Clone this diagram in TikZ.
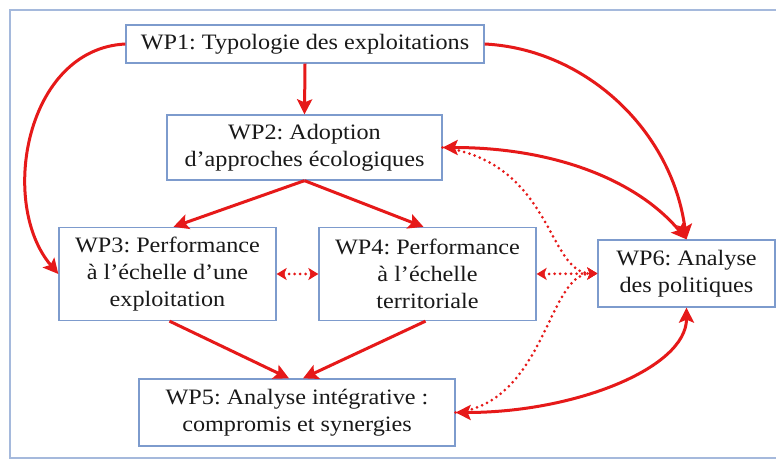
\documentclass[tikz,border=0pt]{standalone}
\usepackage{fontspec}
\setmainfont{Liberation Serif}[FakeStretch=1.1]
\usetikzlibrary{arrows.meta}
\frenchspacing
\definecolor{arrred}{RGB}{230,25,25}
\definecolor{boxblue}{RGB}{125,155,205}
\definecolor{framebl}{RGB}{165,185,220}
\definecolor{txt}{RGB}{25,25,25}
\tikzset{
  wpbox/.style={draw=boxblue, line width=1.3pt, fill=white, align=center, inner sep=0pt,
    text=txt, font=\fontsize{22}{27}\selectfont\frenchspacing},
  bigtip/.tip={Stealth[length=15pt,width=15pt,inset=3pt]},
  smalltip/.tip={Stealth[length=10pt,width=12pt,inset=2.5pt]},
  arr/.style={draw=arrred, line width=3pt, -bigtip},
  darr/.style={draw=arrred, line width=3pt, bigtip-bigtip},
  dotline/.style={draw=arrred, line width=3pt, dash pattern=on 0pt off 5.5pt, line cap=round},
}
\begin{document}
\begin{tikzpicture}[x=1pt, y=-1pt]
\useasboundingbox (0,0) rectangle (776,462);
\clip (0,0) rectangle (776,462);
\fill[white] (0,0) rectangle (776,462);
\draw[framebl, line width=1.6pt] (10,10) rectangle (800,458);

\node[wpbox, minimum width=358pt, minimum height=38pt] (wp1) at (305,44) {WP1: Typologie des exploitations};
\node[wpbox, minimum width=275pt, minimum height=65pt] (wp2) at (304.5,147.5) {WP2: Adoption\\d’approches écologiques};
\node[wpbox, minimum width=217pt, minimum height=93pt] (wp3) at (167.5,274) {WP3: Performance\\à l’échelle d’une\\exploitation};
\node[wpbox, minimum width=217pt, minimum height=93pt] (wp4) at (427.5,274) {WP4: Performance\\à l’échelle\\territoriale};
\node[wpbox, minimum width=177pt, minimum height=67pt] (wp6) at (686.5,273.5) {WP6: Analyse\\des politiques};
\node[wpbox, minimum width=316pt, minimum height=67pt] (wp5) at (297,412.5) {WP5: Analyse intégrative :\\compromis et synergies};

% dotted links
\draw[dotline, -smalltip] (wp2.east) .. controls +(110,15) and +(-50,0) .. (wp6.west);
\draw[dotline, -smalltip] (wp5.east) .. controls +(90,-10) and +(-50,0) .. (wp6.west);
\draw[dotline, smalltip-smalltip] (wp4.east) -- (wp6.west);
\draw[dotline, smalltip-smalltip] (wp3.east) -- (wp4.west);

% solid links
\draw[arr] (wp1.south) -- (wp2.north);
\draw[arr] (wp1.west) .. controls +(-100,5) and +(-60,-70) .. (wp3.west);
\draw[arr] (wp1.east) .. controls +(100,5) and +(-15,-110) .. (wp6.north);
\draw[darr] (wp2.east) .. controls +(110,0) and +(-50,-60) .. (wp6.north);
\draw[arr] (wp2.south) -- ([xshift=6pt]wp3.north);
\draw[arr] (wp2.south) -- ([xshift=-4pt]wp4.north);
\draw[arr] ([xshift=2pt]wp3.south) -- ([xshift=-8pt]wp5.north);
\draw[arr] ([xshift=-2pt]wp4.south) -- ([xshift=6pt]wp5.north);
\draw[darr] (wp5.east) .. controls +(120,0) and +(0,60) .. (wp6.south);
\end{tikzpicture}
\end{document}
